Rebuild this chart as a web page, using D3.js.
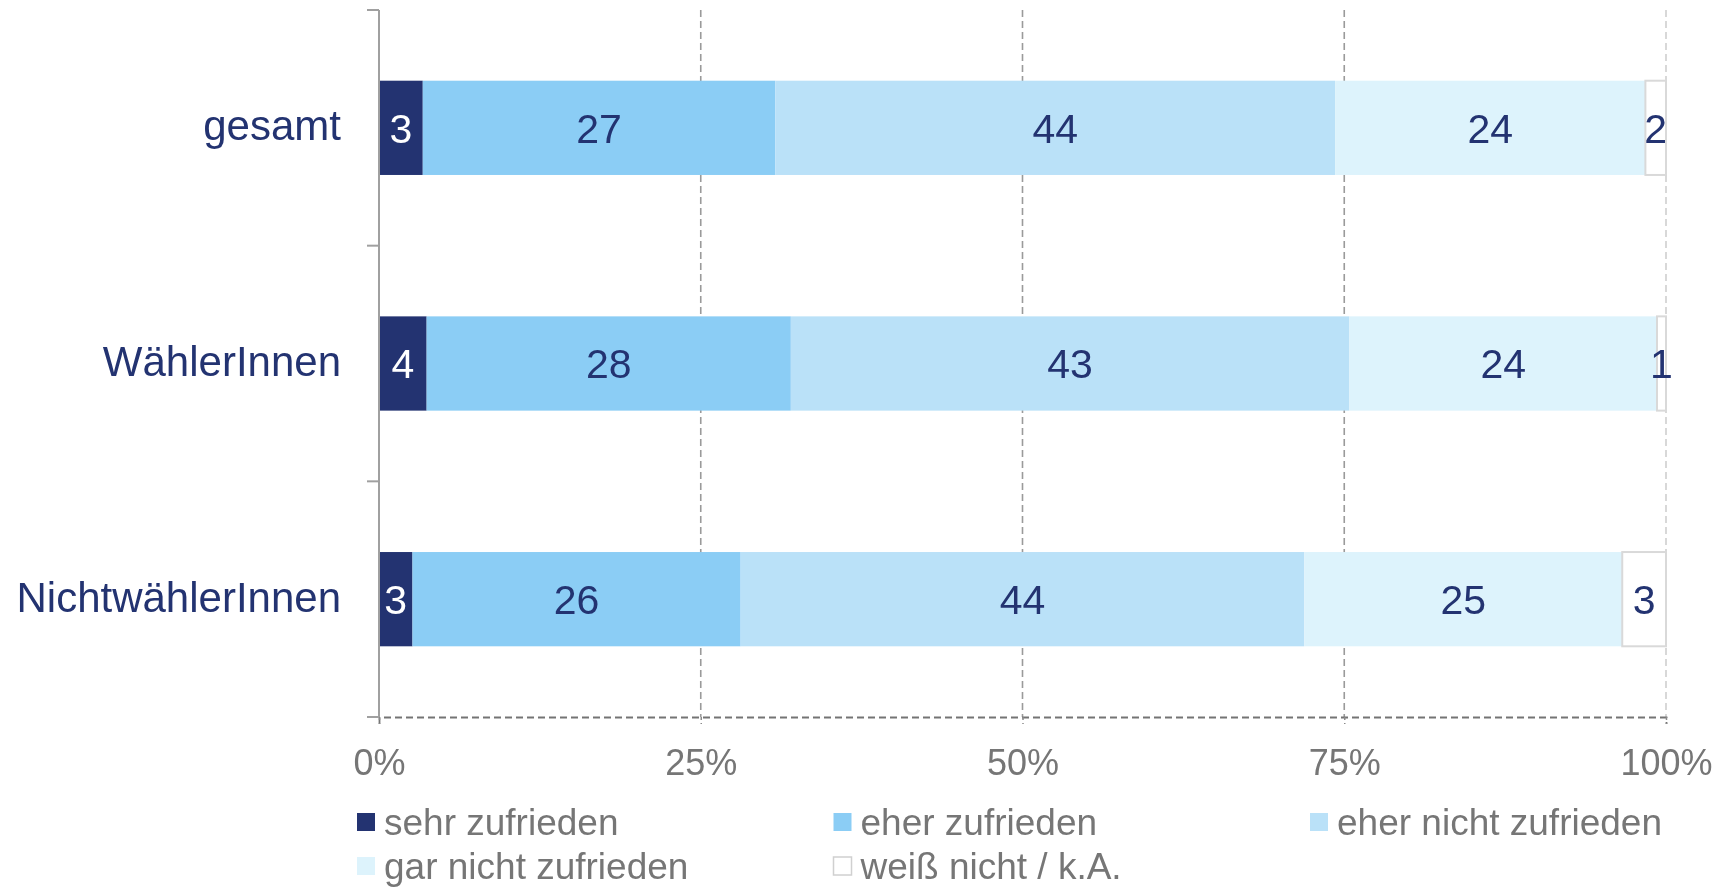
<!DOCTYPE html>
<head>
  <meta charset="utf-8">
  <script src="https://d3js.org/d3.v7.min.js"></script>
  <style>
    body { margin:0;position:fixed;top:0;right:0;bottom:0;left:0;background:#fff; }
    svg { width: 1734px; height: 890px; font-family: "Liberation Sans", Arial, sans-serif; }
  </style>
</head>

<body>
  <svg></svg>
  <script>
    // categories and series, shares in percent
    var categories = ['gesamt', 'WählerInnen', 'NichtwählerInnen'];
    var seriesNames = ['sehr zufrieden', 'eher zufrieden', 'eher nicht zufrieden', 'gar nicht zufrieden', 'weiß nicht / k.A.'];
    var sehrZufrieden = [3.4, 3.7, 2.6];
    var eherZufrieden = [27.4, 28.3, 25.5];
    var eherNichtZufrieden = [43.5, 43.4, 43.8];
    var garNichtZufrieden = [24.1, 23.9, 24.7];
    var weissNicht = [1.6, 0.7, 3.4];
    var xTicks = [0, 25, 50, 75, 100];

    var colors = ['#233371', '#8bcdf5', '#bae1f8', '#ddf3fc', '#ffffff'];
    var navy = '#233371';
    var grey = '#767676';

    var margin = {top: 10, bottom: 173, left: 379, right: 68};
    var width = 1734, height = 890;

    var seriesValues = [sehrZufrieden, eherZufrieden, eherNichtZufrieden, garNichtZufrieden, weissNicht];
    var data = categories.map((c, i) => {
      var row = {cat: c};
      seriesNames.forEach((s, j) => { row[s] = seriesValues[j][i]; });
      return row;
    });
    var stacked = d3.stack().keys(seriesNames)(data);

    var x = d3.scaleLinear()
      .domain([0, 100])
      .range([margin.left, width - margin.right]);

    var y = d3.scaleBand()
      .domain(categories)
      .range([margin.top, height - margin.bottom])
      .paddingInner(0.6)
      .paddingOuter(0.3);

    var svg = d3.select('svg');

    // vertical gridlines
    svg.append('g').selectAll('line')
      .data(xTicks.filter(d => d > 0))
      .enter().append('line')
      .attr('x1', d => x(d)).attr('x2', d => x(d))
      .attr('y1', margin.top).attr('y2', height - margin.bottom)
      .attr('stroke', d => d === 100 ? '#cfcfcf' : '#9a9a9a')
      .attr('stroke-width', 1.6)
      .attr('stroke-dasharray', '7,4');

    // x axis
    var xAxis = d3.axisBottom(x)
      .tickValues(xTicks)
      .tickFormat(d => d + '%')
      .tickSize(7)
      .tickPadding(25);
    var gx = svg.append('g')
      .attr('transform', 'translate(' + [0, height - margin.bottom] + ')')
      .call(xAxis);
    gx.select('.domain')
      .attr('stroke', '#747474').attr('stroke-width', 1.8).attr('stroke-dasharray', '7,4');
    gx.selectAll('.tick line')
      .attr('stroke', '#8a8a8a').attr('stroke-width', 1.5).attr('stroke-dasharray', '3,3');
    gx.selectAll('.tick text')
      .attr('fill', grey).attr('font-size', 36).attr('font-family', '"Liberation Sans", Arial, sans-serif');

    // bars
    var layers = svg.append('g').selectAll('g')
      .data(stacked)
      .enter().append('g')
      .attr('fill', (d, i) => colors[i]);

    layers.selectAll('rect')
      .data(d => d)
      .enter().append('rect')
      .attr('x', d => x(d[0]))
      .attr('y', d => y(d.data.cat))
      .attr('width', d => x(d[1]) - x(d[0]))
      .attr('height', y.bandwidth())
      .attr('stroke', function () { return d3.select(this.parentNode).datum().index === 4 ? '#d9d9d9' : 'none'; })
      .attr('stroke-width', 2);

    layers.selectAll('text')
      .data(d => d.map(v => ({v: v, idx: d.index})))
      .enter().append('text')
      .attr('x', d => (x(d.v[0]) + x(d.v[1])) / 2)
      .attr('y', d => y(d.v.data.cat) + y.bandwidth() / 2)
      .attr('dy', '0.36em')
      .attr('text-anchor', 'middle')
      .attr('font-size', 41)
      .attr('fill', d => d.idx === 0 ? '#ffffff' : navy)
      .text(d => Math.round(d.v[1] - d.v[0]));

    // y axis: solid line with ticks at band boundaries
    var gy = svg.append('g');
    gy.append('line')
      .attr('x1', margin.left).attr('x2', margin.left)
      .attr('y1', margin.top).attr('y2', height - margin.bottom)
      .attr('stroke', '#a0a0a0').attr('stroke-width', 2);
    gy.selectAll('.ytick')
      .data(d3.range(categories.length + 1))
      .enter().append('line')
      .attr('x1', margin.left - 12).attr('x2', margin.left)
      .attr('y1', i => margin.top + i * y.step())
      .attr('y2', i => margin.top + i * y.step())
      .attr('stroke', '#a0a0a0').attr('stroke-width', 2);
    gy.selectAll('text')
      .data(categories)
      .enter().append('text')
      .attr('x', margin.left - 38)
      .attr('y', d => y(d) + y.bandwidth() / 2)
      .attr('dy', '0.3em')
      .attr('text-anchor', 'end')
      .attr('font-size', 42)
      .attr('fill', navy)
      .text(d => d);

    // legend, three per row
    var legend = svg.append('g').selectAll('g')
      .data(seriesNames)
      .enter().append('g')
      .attr('transform', (d, i) => 'translate(' + [356 + (i % 3) * 476.5, 812 + Math.floor(i / 3) * 44] + ')');
    legend.append('rect')
      .attr('x', 1).attr('y', 1)
      .attr('width', 18).attr('height', 18)
      .attr('fill', (d, i) => colors[i])
      .attr('stroke', (d, i) => i === 4 ? '#d0d0d0' : 'none')
      .attr('stroke-width', 1.5);
    legend.append('text')
      .attr('x', 28).attr('y', 23)
      .attr('font-size', 37)
      .attr('fill', grey)
      .text(d => d);
  </script>
</body>
